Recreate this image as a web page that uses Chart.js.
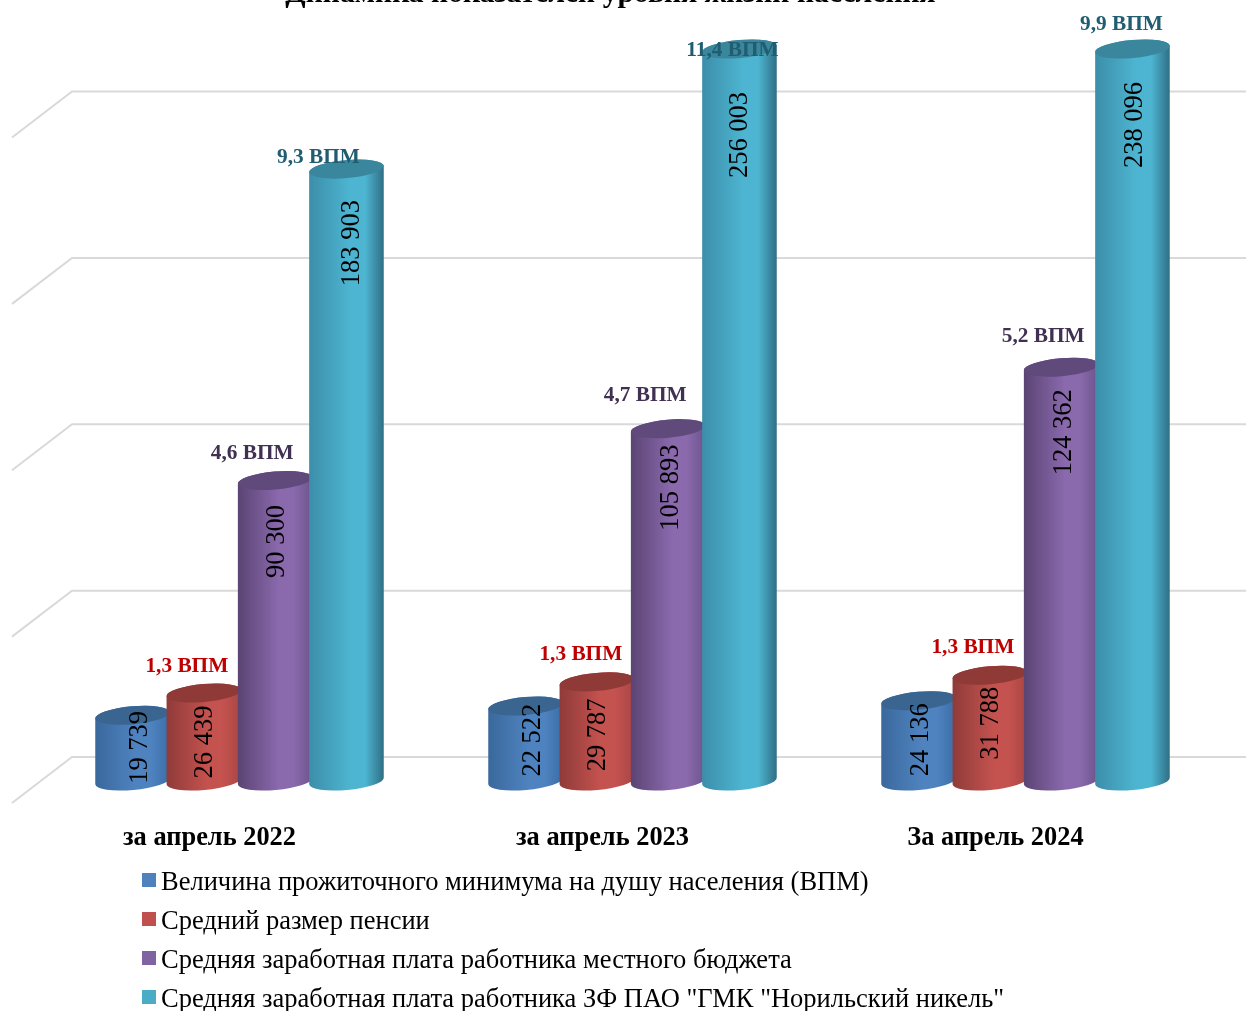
<!DOCTYPE html>
<html lang="ru">
<head>
<meta charset="utf-8">
<title>Динамика показателей уровня жизни населения</title>
<script src="https://cdn.jsdelivr.net/npm/chart.js@4/dist/chart.umd.js"></script>
<style>
  html, body { margin: 0; padding: 0; background: #fff; overflow: hidden; }
  canvas { display: block; }
</style>
</head>
<body>
<canvas id="c" width="1246" height="1011"></canvas>
<script>
const TITLE = "Динамика показателей уровня жизни населения";
const periods = ["за апрель 2022", "за апрель 2023", "За апрель 2024"];
const seriesNames = [
  "Величина прожиточного минимума на душу населения (ВПМ)",
  "Средний размер пенсии",
  "Средняя заработная плата работника местного бюджета",
  "Средняя заработная плата работника ЗФ ПАО \"ГМК \"Норильский никель\"",
];
const livingWage = [19739, 22522, 24136];
const pension = [26439, 29787, 31788];
const budgetPay = [90300, 105893, 124362];
const nickelPay = [183903, 256003, 238096];
// кратность к ВПМ, у первого ряда подписей нет
const pensionRatio = ["1,3 ВПМ", "1,3 ВПМ", "1,3 ВПМ"];
const budgetRatio = ["4,6 ВПМ", "4,7 ВПМ", "5,2 ВПМ"];
const nickelRatio = ["9,3 ВПМ", "11,4 ВПМ", "9,9 ВПМ"];
const wallTicks = [0, 50000, 100000, 150000, 200000];

// ось в оригинале обрезана на 220 000, два столбца упираются в потолок
const AXIS_MAX = 220000;
const SERIF = "'Liberation Serif', 'Times New Roman', serif";

// цвета: легенда, край, блик, правый край, верхний торец
const LOOK = [
  { base: "#4f81bd", left: "#3a689c", mid: "#4f83c0", right: "#3a6da6", cap: "#3b6591" },
  { base: "#c0504d", left: "#8f3b39", mid: "#c4524f", right: "#a84644", cap: "#8f3a37" },
  { base: "#8064a2", left: "#5a4473", mid: "#8a69ad", right: "#6c548b", cap: "#5f4a7b" },
  { base: "#4bacc6", left: "#3c8ea9", mid: "#4db5d1", right: "#2f6e84", cap: "#3a869c" },
];
const ratioColors = [null, "#c00000", "#403152", "#215d70"];
const ratios = [null, pensionRatio, budgetRatio, nickelRatio];
// сдвиги подписей относительно верха столбца, подобраны по картинке
const ratioShift = [
  null,
  [[-17, -27], [-16, -27], [-17, -28]],
  [[-23, -27], [-23, -33], [-18, -31]],
  [[-28, -12], [-7, 1], [-11, -25]],
];
const valueShift = [
  [[7, 32], [7, 34], [2, 39]],
  [[1, 49], [1, 53], [1, 48]],
  [[2, 61], [3, 59], [3, 65]],
  [[6, 74], [1, 86], [3, 76]],
];

const fmtValue = (v) => String(v).replace(/\B(?=(\d{3})+$)/g, " ");
const TILT = -5 * Math.PI / 180, CAP_RY = 9;

function drawCylinder(ctx, el, look, areaTop) {
  const rx = el.width / 2, top = Math.max(el.y, areaTop), bottom = el.base;
  const grad = ctx.createLinearGradient(el.x - rx, 0, el.x + rx, 0);
  grad.addColorStop(0, look.left);
  grad.addColorStop(0.55, look.mid);
  grad.addColorStop(0.75, look.mid);
  grad.addColorStop(1, look.right);
  ctx.beginPath();
  ctx.ellipse(el.x, bottom, rx, CAP_RY, TILT, Math.PI, 0, true);
  ctx.ellipse(el.x, top, rx, CAP_RY, TILT, 0, Math.PI, true);
  ctx.closePath();
  ctx.fillStyle = grad;
  ctx.fill();
  ctx.beginPath();
  ctx.ellipse(el.x, top, rx, CAP_RY, TILT, 0, Math.PI * 2);
  ctx.fillStyle = look.cap;
  ctx.fill();
}

const cylinders = {
  id: "cylinders",
  beforeDatasetsDraw(chart) {
    const { ctx, chartArea, scales } = chart;
    // задняя стенка и боковые штрихи
    ctx.save();
    ctx.strokeStyle = "#d9d9d9";
    ctx.lineWidth = 2;
    for (const t of scales.y.ticks) {
      const y = scales.y.getPixelForValue(t.value) - 24;
      ctx.beginPath();
      ctx.moveTo(12, y + 46);
      ctx.lineTo(72, y);
      ctx.lineTo(1246, y);
      ctx.stroke();
    }
    ctx.restore();
    chart.data.datasets.forEach((ds, i) => {
      chart.getDatasetMeta(i).data.forEach((el) => drawCylinder(ctx, el, LOOK[i], chartArea.top));
    });
    return false;
  },
  afterDraw(chart) {
    const { ctx, chartArea } = chart;
    ctx.save();
    ctx.textAlign = "center";
    ctx.textBaseline = "middle";
    chart.data.datasets.forEach((ds, i) => {
      chart.getDatasetMeta(i).data.forEach((el, j) => {
        const top = Math.max(el.y, chartArea.top);
        ctx.save();
        ctx.translate(el.x + valueShift[i][j][0], top + valueShift[i][j][1]);
        ctx.rotate(-Math.PI / 2);
        ctx.font = `26.5px ${SERIF}`;
        ctx.fillStyle = "#000";
        ctx.fillText(fmtValue(ds.data[j]), 0, 0);
        ctx.restore();
        if (ratios[i]) {
          ctx.font = `bold 21.3px ${SERIF}`;
          ctx.fillStyle = ratioColors[i];
          ctx.fillText(ratios[i][j], el.x + ratioShift[i][j][0], top + ratioShift[i][j][1]);
        }
      });
    });
    // заголовок срезан верхним краем, как в оригинале
    ctx.font = `bold 29.7px ${SERIF}`;
    ctx.fillStyle = "#000";
    ctx.textBaseline = "alphabetic";
    ctx.fillText(TITLE, 610.5, 2);
    // легенда столбиком
    ctx.textAlign = "left";
    ctx.textBaseline = "middle";
    ctx.font = `26.5px ${SERIF}`;
    seriesNames.forEach((name, i) => {
      const y = 883 + i * 39;
      ctx.fillStyle = LOOK[i].base;
      ctx.fillRect(142, y - 10, 14, 14);
      ctx.fillStyle = "#000";
      ctx.fillText(name, 161, y);
    });
    ctx.restore();
  },
};

const allValues = [livingWage, pension, budgetPay, nickelPay];

new Chart(document.getElementById("c").getContext("2d"), {
  type: "bar",
  data: {
    labels: periods,
    datasets: seriesNames.map((name, i) => ({
      label: name, data: allValues[i], backgroundColor: LOOK[i].base,
      categoryPercentage: 0.7257, barPercentage: 1.05,
    })),
  },
  options: {
    responsive: false, animation: false,
    layout: { padding: { left: 43, right: 24, top: 49, bottom: 0 } },
    plugins: { legend: { display: false }, title: { display: false }, tooltip: { enabled: false } },
    scales: {
      x: {
        grid: { display: false, drawTicks: false }, border: { display: false },
        ticks: {
          color: "#000", font: { family: SERIF, size: 26.4, weight: "bold" },
          padding: 41, labelOffset: -30, autoSkip: false, maxRotation: 0,
        },
        afterFit: (s) => { s.height = 230; },
      },
      y: {
        display: false, min: 0, max: AXIS_MAX,
        afterBuildTicks: (s) => { s.ticks = wallTicks.map((v) => ({ value: v })); },
      },
    },
  },
  plugins: [cylinders],
});
</script>
</body>
</html>
